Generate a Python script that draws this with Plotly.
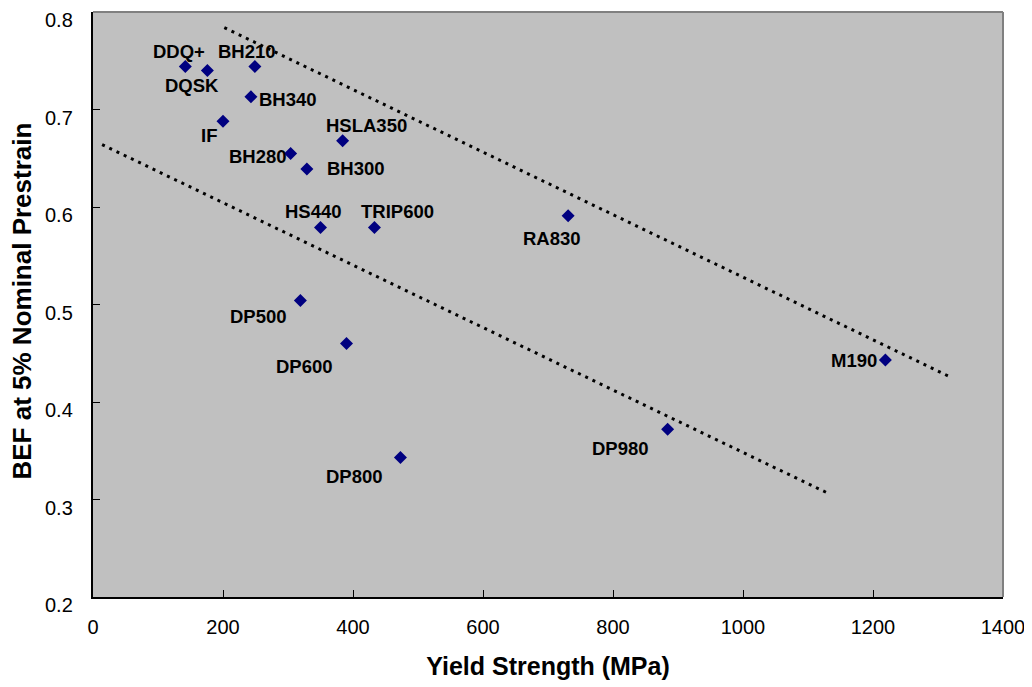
import plotly.graph_objects as go

# Steel grades, yield strength (MPa) and BEF at 5% prestrain
grades = ["DDQ+", "DQSK", "BH210", "BH340", "IF", "HSLA350", "BH280", "BH300",
          "HS440", "TRIP600", "DP500", "DP600", "DP800", "DP980", "RA830", "M190"]
yield_strength = [142, 176, 249, 243, 200, 384, 304, 329,
                  350, 433, 319, 390, 473, 884, 731, 1219]
bef = [0.744, 0.740, 0.744, 0.713, 0.688, 0.668, 0.655, 0.639,
       0.579, 0.579, 0.504, 0.460, 0.343, 0.372, 0.591, 0.443]

# Dotted bounding trend lines (end points)
upper_x = [202, 1321]
upper_y = [0.784, 0.425]
lower_x = [14, 1132]
lower_y = [0.664, 0.306]

x_ticks = [0, 200, 400, 600, 800, 1000, 1200, 1400]
y_ticks = [0.2, 0.3, 0.4, 0.5, 0.6, 0.7, 0.8]

# label offsets in pixels (x, y up)
label_shift = {
    "DDQ+": (-6, 15), "BH210": (-8, 15), "DQSK": (-15, -15), "BH340": (37, -3),
    "IF": (-14, -14), "HSLA350": (24, 15), "BH280": (-33, -3), "BH300": (49, 0),
    "HS440": (-7, 16), "TRIP600": (23, 16), "DP500": (-42, -16), "DP600": (-42, -23),
    "DP800": (-46, -19), "DP980": (-47, -19), "RA830": (-16, -23), "M190": (-31, 0),
}

font = "Arial, Liberation Sans, sans-serif"

fig = go.Figure()
for lx, ly in [(upper_x, upper_y), (lower_x, lower_y)]:
    fig.add_trace(go.Scatter(x=lx, y=ly, mode="lines",
                             line=dict(color="black", width=3, dash="3px,5px"),
                             hoverinfo="skip", showlegend=False))

fig.add_trace(go.Scatter(x=yield_strength, y=bef, mode="markers",
                         marker=dict(symbol="diamond", size=10, color="#000080"),
                         text=grades, showlegend=False))

for g, xv, yv in zip(grades, yield_strength, bef):
    dx, dy = label_shift[g]
    fig.add_annotation(x=xv, y=yv, text="<b>%s</b>" % g, showarrow=False,
                       xshift=dx, yshift=dy,
                       font=dict(family=font, size=18.5, color="black"))

# y tick labels sit a little below their ticks, as in the original
for v in y_ticks:
    fig.add_annotation(x=0, y=v, xref="paper", yref="y", text="%.1f" % v,
                       xanchor="right", yanchor="middle", xshift=-18, yshift=-8,
                       showarrow=False, font=dict(family=font, size=20, color="black"))

# y axis title as a rotated annotation
fig.add_annotation(x=0, y=0.5, xref="paper", yref="paper", xshift=-72, yshift=3,
                   xanchor="center", yanchor="middle",
                   text="<b>BEF at 5% Nominal Prestrain</b>", textangle=-90,
                   showarrow=False, font=dict(family=font, size=26, color="black"))

# page body adds an 8px margin, so the figure is a bit smaller than the window
fig.update_layout(
    width=1024, height=679,
    paper_bgcolor="white", plot_bgcolor="#C0C0C0",
    margin=dict(l=85, r=29, t=4, b=90),
    font=dict(family=font, size=20, color="black"),
)
fig.update_xaxes(range=[0, 1400], tickvals=x_ticks,
                 showgrid=False, zeroline=False, showline=True, linecolor="black",
                 linewidth=2, ticks="inside", ticklen=7, tickcolor="black",
                 ticklabelstandoff=11, automargin=False, ticklabeloverflow="allow",
                 title=dict(text="<b>Yield Strength (MPa)</b>", font=dict(size=25), standoff=20))
fig.update_yaxes(range=[0.2, 0.8], tickvals=y_ticks, showticklabels=False,
                 showgrid=False, zeroline=False, showline=True, linecolor="black",
                 linewidth=2, ticks="inside", ticklen=7, tickcolor="black",
                 automargin=False)

# gray frame on top and right
fig.add_shape(type="line", xref="paper", yref="paper", x0=0, x1=1, y0=1, y1=1,
              line=dict(color="#808080", width=2))
fig.add_shape(type="line", xref="paper", yref="paper", x0=1, x1=1, y0=0, y1=1,
              line=dict(color="#808080", width=2))

fig.write_html("out.html")
